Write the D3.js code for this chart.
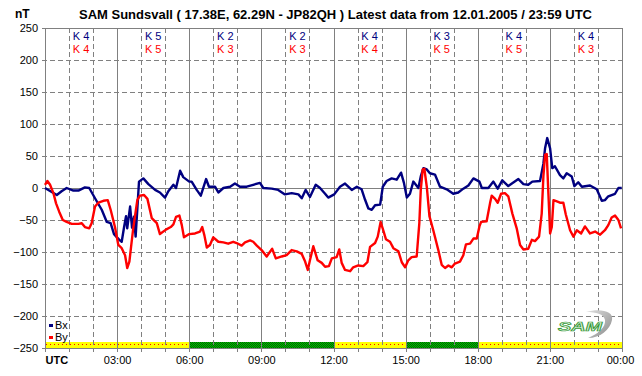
<!DOCTYPE html>
<html><head><meta charset="utf-8">
<script src="https://cdn.jsdelivr.net/npm/d3@7/dist/d3.min.js"></script>
<style>
html,body{margin:0;padding:0;background:#fff;}
svg{display:block;font-family:"Liberation Sans",Arial,sans-serif;}
</style></head>
<body>
<svg id="chart" width="642" height="376"></svg>
<script>
// ---------- data ----------
const titleText = "SAM Sundsvall ( 17.38E, 62.29N - JP82QH ) Latest data from 12.01.2005 / 23:59 UTC";
const yTicks = [250,200,150,100,50,0,-50,-100,-150,-200,-250];
const xTickHours = [0,3,6,9,12,15,18,21,24];
const xTickLabels = ["UTC","03:00","06:00","09:00","12:00","15:00","18:00","21:00","00:00"];
const kBx = ["K 4","K 5","K 2","K 2","K 4","K 3","K 4","K 4"];
const kBy = ["K 4","K 5","K 3","K 3","K 4","K 5","K 5","K 3"];
const statusStart = [0,6,12,15,18];
const statusEnd   = [6,12,15,18,24];
const statusKind  = ["yellow","green","yellow","green","yellow"];

const bxTime = [0,0.49,0.69,0.90,1.18,1.39,1.66,1.84,2.08,2.36,2.57,2.73,2.87,3.09,3.19,3.29,3.37,3.42,3.54,3.62,3.70,3.77,3.91,4.09,4.30,4.58,4.78,4.99,5.13,5.34,5.45,5.62,5.75,6.00,
 6.10,6.31,6.48,6.70,6.82,7.07,7.21,7.42,7.70,7.90,8.11,8.39,8.66,8.94,9.08,9.43,9.70,9.98,10.26,10.54,10.68,10.84,11.02,11.26,11.44,11.65,11.78,12.03,
 12.27,12.48,12.76,12.97,13.17,13.31,13.45,13.59,13.73,13.94,14.05,14.21,14.42,14.63,14.81,14.93,15.05,15.18,15.32,15.53,15.63,15.74,15.88,16.01,16.22,16.43,16.71,16.98,17.19,17.40,17.61,17.82,18.07,
 18.17,18.44,18.65,18.83,19.02,19.27,19.69,19.90,20.10,20.27,20.59,20.73,20.80,20.89,21.01,21.10,21.21,21.42,21.56,21.70,21.91,22.02,22.18,22.33,22.67,22.95,23.16,23.29,23.43,23.71,23.85,23.99];
const bxValues = [0,-11,-5,0,-4,-4,1,0,-16,-34,-53,-55,-72,-81,-84,-61,-44,-63,-29,-62,-45,-76,10,15,6,-3,-7,-15,-5,5,0,27,17,10,
 10,-3,-12,14,2,2,-7,0,2,7,2,2,5,8,0,-1,-3,-10,-8,-10,-16,-3,-14,5,0,-9,-15,-10,
 2,7,-3,2,-2,-18,-32,-34,-27,-26,2,11,15,13,24,8,-15,-9,10,0,18,31,29,23,21,2,-2,-9,-7,-1,4,15,10,
 0,0,10,-1,12,3,14,6,5,10,11,38,62,78,62,31,34,20,15,23,18,3,9,2,4,-2,-20,-19,-13,-9,0,0];

const byTime = [0,0.10,0.21,0.35,0.46,0.59,0.74,0.90,1.11,1.39,1.53,1.66,1.84,1.94,2.08,2.22,2.43,2.61,2.73,2.91,3.05,3.19,3.33,3.42,3.51,3.58,3.67,3.84,3.95,4.12,4.26,4.44,4.65,4.78,5.03,5.23,5.34,5.45,5.59,5.69,5.78,6.00,
 6.24,6.45,6.54,6.63,6.73,6.86,7.00,7.21,7.42,7.62,7.83,7.97,8.18,8.32,8.53,8.66,8.81,9.01,9.22,9.45,9.60,9.85,10.05,10.26,10.47,10.68,10.82,10.93,11.02,11.16,11.34,11.51,11.65,11.81,11.93,
 12.13,12.24,12.34,12.48,12.69,12.82,13.03,13.24,13.41,13.52,13.73,13.84,13.96,14.07,14.18,14.35,14.49,14.70,14.84,14.98,15.11,15.25,15.46,15.57,15.63,15.71,15.78,15.88,15.99,16.15,16.36,16.50,16.64,16.78,16.92,17.05,17.26,17.40,17.51,17.68,17.82,17.96,18.07,
 18.14,18.37,18.51,18.58,18.72,18.83,18.97,19.13,19.27,19.44,19.62,19.76,19.90,20.10,20.25,20.38,20.55,20.66,20.73,20.80,20.87,20.94,21.01,21.08,21.15,21.29,21.42,21.56,21.66,21.84,21.98,22.12,22.30,22.46,22.67,22.88,23.09,23.29,23.43,23.57,23.71,23.85,23.96];
const byValues = [5,11,5,-8,-24,-37,-50,-53,-56,-56,-55,-61,-63,-55,-29,-23,-20,-19,-34,-61,-89,-94,-105,-125,-115,-92,-63,-19,-12,-11,-17,-47,-55,-72,-65,-61,-57,-45,-43,-58,-77,-72,
 -71,-68,-61,-74,-93,-89,-77,-84,-85,-87,-84,-86,-90,-85,-82,-84,-90,-97,-107,-95,-110,-107,-105,-97,-99,-103,-115,-128,-113,-91,-113,-117,-123,-122,-110,
 -108,-96,-117,-128,-130,-124,-121,-122,-116,-92,-86,-76,-53,-66,-80,-84,-94,-99,-116,-124,-113,-108,-107,-55,-3,29,30,2,-44,-66,-97,-120,-125,-121,-124,-118,-115,-105,-88,-87,-79,-79,-60,
 -53,-52,-24,-12,-17,-23,-9,-8,-13,-40,-63,-89,-96,-95,-81,-83,-76,-40,18,52,53,-10,-71,-61,-19,-21,-23,-23,-41,-66,-76,-66,-71,-60,-71,-68,-73,-66,-58,-46,-43,-50,-63];

// ---------- chart ----------
const svg = d3.select("#chart");
const x = d3.scaleLinear().domain([0,24]).range([45,622]);
const y = d3.scaleLinear().domain([-250,250]).range([348,28]);
const px = v => Math.round(x(v)) + 0.5;
const py = v => Math.round(y(v)) + 0.5;
const gridColor = "#808080";

const defs = svg.append("defs");
const pY = defs.append("pattern").attr("id","patY").attr("patternUnits","userSpaceOnUse")
  .attr("x",45).attr("y",342).attr("width",4).attr("height",6);
pY.append("rect").attr("width",4).attr("height",6).attr("fill","#ffff00");
pY.append("rect").attr("x",1).attr("y",2).attr("width",1).attr("height",1).attr("fill","#ff0000");
const pG = defs.append("pattern").attr("id","patG").attr("patternUnits","userSpaceOnUse")
  .attr("x",0).attr("y",0).attr("width",2).attr("height",2);
pG.append("rect").attr("width",2).attr("height",2).attr("fill","#00c000");
pG.append("rect").attr("width",1).attr("height",1).attr("fill","#006000");
pG.append("rect").attr("x",1).attr("y",1).attr("width",1).attr("height",1).attr("fill","#006000");

// status bar
svg.append("g").selectAll("rect").data(statusStart).join("rect")
  .attr("x",(d)=>Math.round(x(d)))
  .attr("width",(d,i)=>Math.round(x(statusEnd[i]))-Math.round(x(d)))
  .attr("y",342).attr("height",6)
  .attr("fill",(d,i)=>statusKind[i]==="yellow"?"url(#patY)":"url(#patG)");

// horizontal grid
const hGrid = svg.append("g").attr("shape-rendering","crispEdges");
hGrid.selectAll("line").data(yTicks).join("line")
  .attr("x1",42).attr("x2",622)
  .attr("y1",d=>py(d)).attr("y2",d=>py(d))
  .attr("stroke",gridColor).attr("stroke-width",1)
  .attr("stroke-dasharray",d=>(d===0||d===250||d===-250)?null:"5,3");
// vertical grid
const hours = d3.range(0,25);
const vGrid = svg.append("g").attr("shape-rendering","crispEdges");
vGrid.selectAll("line").data(hours).join("line")
  .attr("x1",d=>px(d)).attr("x2",d=>px(d))
  .attr("y1",28).attr("y2",352)
  .attr("stroke",gridColor).attr("stroke-width",1)
  .attr("stroke-dasharray",d=>(d%3===0)?null:"5,3");

// y axis labels
const yAxis = d3.axisLeft(y).tickValues(yTicks).tickSize(0).tickPadding(7);
const ya = svg.append("g").attr("transform","translate(45,0)").call(yAxis);
ya.select(".domain").remove();
ya.selectAll("text").attr("font-size",11).attr("fill","#000").attr("font-family","Liberation Sans, Arial, sans-serif");

// x axis labels
const xAxis = d3.axisBottom(x).tickValues(xTickHours).tickSize(0).tickPadding(8)
  .tickFormat((d,i)=>xTickLabels[i]);
const xa = svg.append("g").attr("transform","translate(0,348)").call(xAxis);
xa.select(".domain").remove();
xa.selectAll("text").attr("font-size",11).attr("fill","#000").attr("font-family","Liberation Sans, Arial, sans-serif");
xa.selectAll(".tick").filter(d=>d===0).select("text").attr("text-anchor","start").attr("font-weight","bold");
xa.selectAll(".tick").filter(d=>d===24).select("text").attr("dx",-2);

// title & unit
const title = svg.append("text").attr("x",335.5).attr("y",18.5).attr("text-anchor","middle")
  .attr("font-size",13).attr("font-weight","bold").text(titleText);
const tl = title.node().getComputedTextLength();
title.attr("font-size", 13*513/tl);
svg.append("text").attr("x",15).attr("y",18).attr("font-size",12).attr("font-weight","bold").text("nT");

// K indices
const kg = svg.append("g").attr("font-size",11).attr("text-anchor","middle");
kg.selectAll("text.kx").data(kBx).join("text").attr("class","kx")
  .attr("x",(d,i)=>x(i*3+1.5)).attr("y",39.5).attr("fill","#000080").text(d=>d);
kg.selectAll("text.ky").data(kBy).join("text").attr("class","ky")
  .attr("x",(d,i)=>x(i*3+1.5)).attr("y",53).attr("fill","#ff0000").text(d=>d);

// data lines
const line = d3.line().x(d=>x(d[0])).y(d=>y(d[1]));
const bxData = bxTime.map((t,i)=>[t,bxValues[i]]);
const byData = byTime.map((t,i)=>[t,byValues[i]]);
svg.append("path").datum(bxData).attr("d",line).attr("fill","none")
  .attr("stroke","#000080").attr("stroke-width",2.4).attr("stroke-linejoin","round");
svg.append("path").datum(byData).attr("d",line).attr("fill","none")
  .attr("stroke","#ff0000").attr("stroke-width",2.4).attr("stroke-linejoin","round");

// legend
const legNames = ["Bx","By"];
const legColors = ["#000080","#ff0000"];
const lg = svg.append("g");
lg.selectAll("rect").data(legNames).join("rect")
  .attr("x",49).attr("y",(d,i)=>324+i*12).attr("width",4).attr("height",3).attr("fill",(d,i)=>legColors[i]);
lg.selectAll("text").data(legNames).join("text")
  .attr("x",55).attr("y",(d,i)=>329+i*12).attr("font-size",11).attr("fill","#000").text(d=>d);

// logo
const logo = svg.append("g");
const grad = defs.append("linearGradient").attr("id","swoosh").attr("x1","0").attr("y1","0").attr("x2","1").attr("y2","1");
grad.append("stop").attr("offset","0").attr("stop-color","#e0e0e0");
grad.append("stop").attr("offset","1").attr("stop-color","#8a8a8a");
logo.append("path")
  .attr("d","M586,312 C600,308 614,311 612,320 C610,330 600,338 588,338 C598,334 606,327 605,320 C604,314 596,312 586,312 Z")
  .attr("fill","url(#swoosh)");
logo.append("text").attr("x",558).attr("y",331).attr("font-size",12).attr("font-style","italic")
  .attr("font-weight","bold").attr("fill","#d8f0d8").attr("stroke","#3a9a3a").attr("stroke-width",0.7)
  .attr("textLength",44).attr("lengthAdjust","spacingAndGlyphs").text("SAM");
</script>
</body></html>
